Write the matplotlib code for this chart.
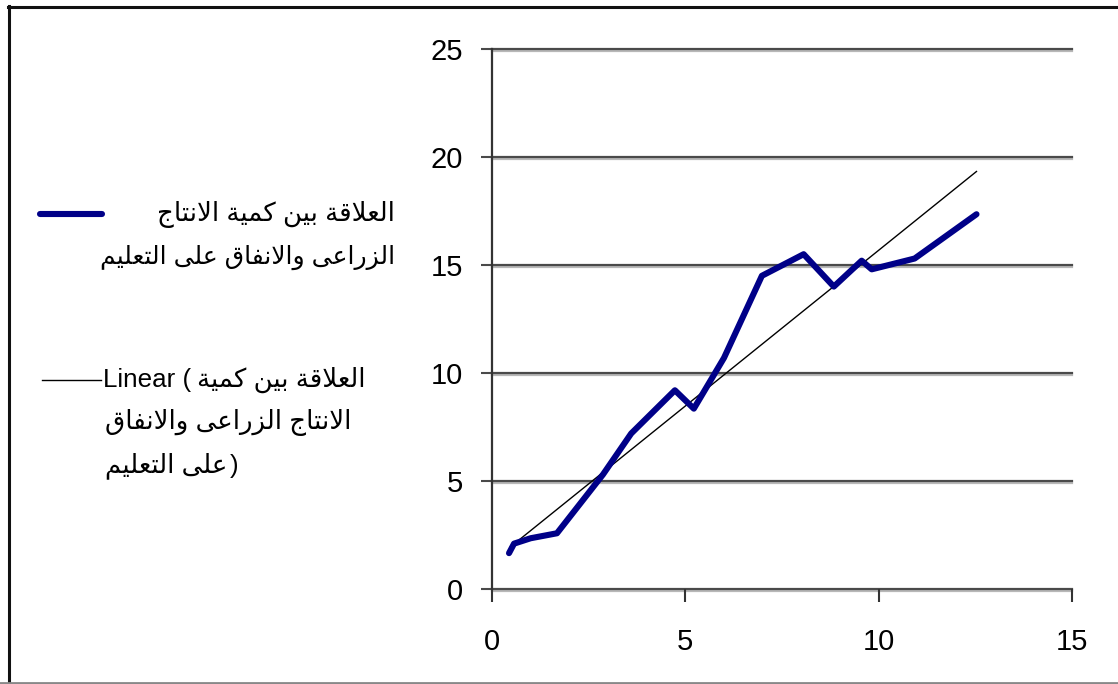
import numpy as np
import matplotlib
matplotlib.use("Agg")
import matplotlib.pyplot as plt
from matplotlib import patheffects as pe
from matplotlib.lines import Line2D

# ---------------- data ----------------
x_vals = [0.44, 0.57, 1.0, 1.68, 2.87, 3.6, 4.73, 5.22, 6.0, 6.98, 8.06, 8.84, 9.56, 9.82, 10.93, 12.53]
y_vals = [1.66, 2.1, 2.35, 2.58, 5.3, 7.2, 9.2, 8.35, 10.7, 14.5, 15.5, 14.0, 15.2, 14.8, 15.3, 17.35]
# linear trend (end points of the trend line)
trend_x = [0.47, 12.53]
trend_y = [1.94, 19.33]

x_ticks = [0, 5, 10, 15]
y_ticks = [0, 5, 10, 15, 20, 25]

series_label_lines = ["العلاقة بين كمية الانتاج", "الزراعى والانفاق على التعليم"]
trend_label_lines = ["العلاقة بين كمية", "الانتاج الزراعى والانفاق", "على التعليم"]

# ---------------- minimal Arabic shaping (presentation forms) ----------------
FORMS = {
    'ا': ('\uFE8D', '\uFE8E', None, None),
    'ب': ('\uFE8F', '\uFE90', '\uFE91', '\uFE92'),
    'ة': ('\uFE93', '\uFE94', None, None),
    'ت': ('\uFE95', '\uFE96', '\uFE97', '\uFE98'),
    'ج': ('\uFE9D', '\uFE9E', '\uFE9F', '\uFEA0'),
    'ر': ('\uFEAD', '\uFEAE', None, None),
    'ز': ('\uFEAF', '\uFEB0', None, None),
    'ع': ('\uFEC9', '\uFECA', '\uFECB', '\uFECC'),
    'ف': ('\uFED1', '\uFED2', '\uFED3', '\uFED4'),
    'ق': ('\uFED5', '\uFED6', '\uFED7', '\uFED8'),
    'ك': ('\uFED9', '\uFEDA', '\uFEDB', '\uFEDC'),
    'ل': ('\uFEDD', '\uFEDE', '\uFEDF', '\uFEE0'),
    'م': ('\uFEE1', '\uFEE2', '\uFEE3', '\uFEE4'),
    'ن': ('\uFEE5', '\uFEE6', '\uFEE7', '\uFEE8'),
    'و': ('\uFEED', '\uFEEE', None, None),
    'ى': ('\uFEEF', '\uFEF0', None, None),
    'ي': ('\uFEF1', '\uFEF2', '\uFEF3', '\uFEF4'),
}
LAMALEF = ('\uFEFB', '\uFEFC')


def dual(c):
    return c in FORMS and FORMS[c][2] is not None


def shape_word(w):
    out = []
    i = 0
    n = len(w)
    while i < n:
        c = w[i]
        prev_joins = i > 0 and dual(w[i - 1])
        if c == 'ل' and i + 1 < n and w[i + 1] == 'ا':
            out.append(LAMALEF[1] if prev_joins else LAMALEF[0])
            i += 2
            continue
        if c not in FORMS:
            out.append(c)
            i += 1
            continue
        nxt = w[i + 1] if i + 1 < n else None
        next_joins = dual(c) and nxt is not None and nxt in FORMS
        iso, fin, ini, med = FORMS[c]
        if prev_joins and next_joins:
            out.append(med)
        elif prev_joins:
            out.append(fin)
        elif next_joins:
            out.append(ini)
        else:
            out.append(iso)
        i += 1
    return ''.join(out)


def visual(s):
    words = s.split(' ')
    shaped = ' '.join(shape_word(w) for w in words)
    return shaped[::-1]


# ---------------- figure ----------------
plt.rcParams['font.family'] = ['Liberation Sans', 'DejaVu Sans']

W, H = 1118, 684
fig = plt.figure(figsize=(W / 100, H / 100), dpi=100)
ax = fig.add_axes([492 / W, 1 - 589 / H, (1072 - 492) / W, (589 - 49) / H])

ax.set_xlim(0, 15)
ax.set_ylim(0, 25)
ax.set_xticks(x_ticks)
ax.set_yticks(y_ticks)
ax.set_xticklabels([str(t) for t in x_ticks])
ax.set_yticklabels([str(t) for t in y_ticks])

grid_color = '#4a4a4a'
shadow = [pe.SimpleLineShadow(offset=(0, -1.2), shadow_color='#b8b8b8', alpha=1.0), pe.Normal()]
for t in y_ticks:
    ax.axhline(t, color=grid_color, lw=1.6, zorder=1, clip_on=False, path_effects=shadow)

for s in ['top', 'right', 'bottom']:
    ax.spines[s].set_visible(False)
ax.spines['left'].set_color('#333333')
ax.spines['left'].set_linewidth(1.6)

ax.tick_params(axis='y', direction='out', length=8, width=1.5, color=grid_color,
               labelsize=21, pad=13, labelcolor='black')
ax.tick_params(axis='x', direction='out', length=9, width=1.5, color='#333333',
               labelsize=21, pad=19, labelcolor='black')

ax.plot(trend_x, trend_y, color='black', lw=1.0, zorder=3)
ax.plot(x_vals, y_vals, color='#000088', lw=4.4, solid_joinstyle='round', zorder=4,
        solid_capstyle='round')

# ---------------- legend (drawn manually) ----------------
def fx(px):
    return px / W


def fy(py):
    return 1 - py / H


fig.add_artist(Line2D([fx(40), fx(102)], [fy(214), fy(214)], color='#000088', lw=4.4,
                      solid_capstyle='round'))
fig.add_artist(Line2D([fx(42), fx(101)], [fy(380), fy(380)], color='black', lw=1.0))

fs_leg = 18.7
fig.text(fx(395), fy(214), visual(series_label_lines[0]), ha='right', va='center', fontsize=fs_leg)
fig.text(fx(395), fy(257), visual(series_label_lines[1]), ha='right', va='center', fontsize=18.0)

renderer = fig.canvas.get_renderer()
t_lin = fig.text(fx(103), fy(380), 'Linear (', ha='left', va='center', fontsize=fs_leg)
bb = t_lin.get_window_extent(renderer)
fig.text(bb.x1 / W + fx(6), fy(380), visual(trend_label_lines[0]), ha='left', va='center', fontsize=fs_leg)
fig.text(fx(105), fy(423), visual(trend_label_lines[1]), ha='left', va='center', fontsize=fs_leg)
t3 = fig.text(fx(105), fy(466), visual(trend_label_lines[2]), ha='left', va='center', fontsize=fs_leg)
bb3 = t3.get_window_extent(renderer)
fig.text(bb3.x1 / W + fx(2), fy(466), ')', ha='left', va='center', fontsize=fs_leg)

# ---------------- outer frame ----------------
fig.add_artist(Line2D([fx(8), fx(1118)], [fy(6.5), fy(6.5)], color='#111111', lw=2.2))
fig.add_artist(Line2D([fx(8.5), fx(8.5)], [fy(6), fy(684)], color='#111111', lw=2.2))
fig.add_artist(Line2D([fx(0), fx(1118)], [fy(682.5), fy(682.5)], color='#888888', lw=2.0))

fig.savefig('out.png', dpi=100)
